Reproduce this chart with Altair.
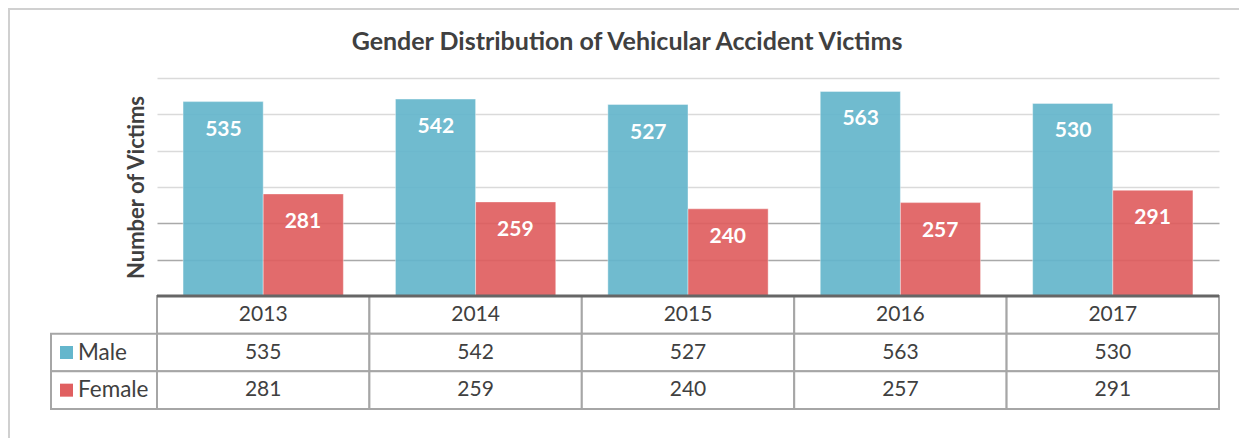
import altair as alt
import pandas as pd

years = ["2013", "2014", "2015", "2016", "2017"]
male = [535, 542, 527, 563, 530]
female = [281, 259, 240, 257, 291]
genders = ["Male", "Female"]
colors = ["#64B6CC", "#E05F60"]
table_rows = ["Year", "Male", "Female"]
title_text = "Gender Distribution of Vehicular Accident Victims"
y_title = "Number of Victims"

FONT = "Lato"
TXT = "#404040"
W, H = 1062, 218

bars_df = pd.DataFrame(
    [{"year": y, "gender": "Male", "value": v} for y, v in zip(years, male)]
    + [{"year": y, "gender": "Female", "value": v} for y, v in zip(years, female)]
)
cells_df = pd.DataFrame(
    [{"year": y, "row": "Year", "label": y} for y in years]
    + [{"year": y, "row": "Male", "label": str(v)} for y, v in zip(years, male)]
    + [{"year": y, "row": "Female", "label": str(v)} for y, v in zip(years, female)]
)
legend_df = pd.DataFrame({"col": ["legend", "legend"], "row": genders, "gender": genders})

x_scale = alt.Scale(domain=years, paddingInner=0, paddingOuter=0)
xo_scale = alt.Scale(domain=genders, paddingInner=0, paddingOuter=0.325)
y_scale = alt.Scale(domain=[0, 600], nice=False)
row_scale = alt.Scale(domain=table_rows, range=[218, 331], paddingInner=0, paddingOuter=0)
leg_x_scale = alt.Scale(domain=["legend"], range=[-106, 0], paddingInner=0, paddingOuter=0)
color_scale = alt.Scale(domain=genders, range=colors)

grid_color = {"condition": {"test": "datum.value <= 200", "value": "#A9A9A9"}, "value": "#DADADA"}

base_bars = alt.Chart(bars_df)

bars = base_bars.mark_bar(opacity=0.92, stroke="white", strokeOpacity=0.4, strokeWidth=1).encode(
    x=alt.X("year:N", scale=x_scale, axis=None),
    xOffset=alt.XOffset("gender:N", scale=xo_scale),
    y=alt.Y(
        "value:Q",
        scale=y_scale,
        axis=alt.Axis(
            values=[0, 100, 200, 300, 400, 500, 600],
            labels=False, ticks=False, domain=False,
            grid=True, gridColor=grid_color, gridWidth=1.5,
            title=y_title, titleFont=FONT, titleFontSize=22, titleFontWeight="bold",
            titleColor=TXT, titlePadding=9,
        ),
    ),
    color=alt.Color("gender:N", scale=color_scale, legend=None),
)

# half of a bar width (group of two bars spans 159 px of a 212.4 px year band)
HALF = 39.75


def bar_label(gender, shift):
    return base_bars.transform_filter(alt.datum.gender == gender).mark_text(
        font=FONT, fontSize=21, fontWeight="bold", color="white", baseline="middle", dy=28, dx=shift
    ).encode(
        x=alt.X("year:N", scale=x_scale, axis=None),
        y=alt.Y("value:Q", scale=y_scale, axis=None),
        text=alt.Text("value:Q"),
    )


male_labels = bar_label("Male", -HALF)
female_labels = bar_label("Female", HALF)

cells = alt.Chart(cells_df).mark_rect(fill="white", stroke="#A6A6A6", strokeWidth=2).encode(
    x=alt.X("year:N", scale=x_scale, axis=None),
    y=alt.Y("row:N", scale=row_scale, axis=None),
)

cell_text = alt.Chart(cells_df).mark_text(font=FONT, fontSize=21, color=TXT, baseline="middle").encode(
    x=alt.X("year:N", scale=x_scale, axis=None),
    y=alt.Y("row:N", scale=row_scale, axis=None),
    text="label:N",
)

leg_cells = alt.Chart(legend_df).mark_rect(fill="white", stroke="#A6A6A6", strokeWidth=2).encode(
    x=alt.X("col:N", scale=leg_x_scale, axis=None),
    y=alt.Y("row:N", scale=row_scale, axis=None),
)

leg_swatch = alt.Chart(legend_df).mark_square(size=169, opacity=1, xOffset=-37.5).encode(
    x=alt.X("col:N", scale=leg_x_scale, axis=None),
    y=alt.Y("row:N", scale=row_scale, axis=None),
    color=alt.Color("gender:N", scale=color_scale, legend=None),
)

leg_text = alt.Chart(legend_df).mark_text(
    font=FONT, fontSize=22.5, color=TXT, align="left", baseline="middle", dx=-26
).encode(
    x=alt.X("col:N", scale=leg_x_scale, axis=None),
    y=alt.Y("row:N", scale=row_scale, axis=None),
    text="gender:N",
)

baseline = alt.Chart(pd.DataFrame({"v": [0]})).mark_rule(color="#666666", strokeWidth=3).encode(
    y=alt.Y("v:Q", scale=y_scale, axis=None),
)

# decorative outer frame of the chart box
frame = alt.Chart(pd.DataFrame({"f": [0]})).mark_rect(
    fill=None, stroke="#D0D0D0", strokeWidth=2
).encode(
    x=alt.value(-148), x2=alt.value(1300), y=alt.value(-69), y2=alt.value(500)
)

chart = (
    alt.layer(frame, cells, leg_cells, bars, male_labels, female_labels,
              cell_text, leg_swatch, leg_text, baseline)
    .resolve_scale(x="independent", y="independent", xOffset="independent", color="shared")
    .properties(
        width=W,
        height=H,
        padding={"left": 149, "top": 70, "right": 20, "bottom": 142},
        autosize=alt.AutoSizeParams(type="none"),
        title=alt.Title(
            title_text, font=FONT, fontSize=25, fontWeight="bold", color=TXT,
            anchor="middle", dx=-61, offset=0, dy=67, baseline="alphabetic",
        ),
    )
    .configure_view(stroke=None)
)

chart.save("out.html", embed_options={"renderer": "svg", "actions": False})
